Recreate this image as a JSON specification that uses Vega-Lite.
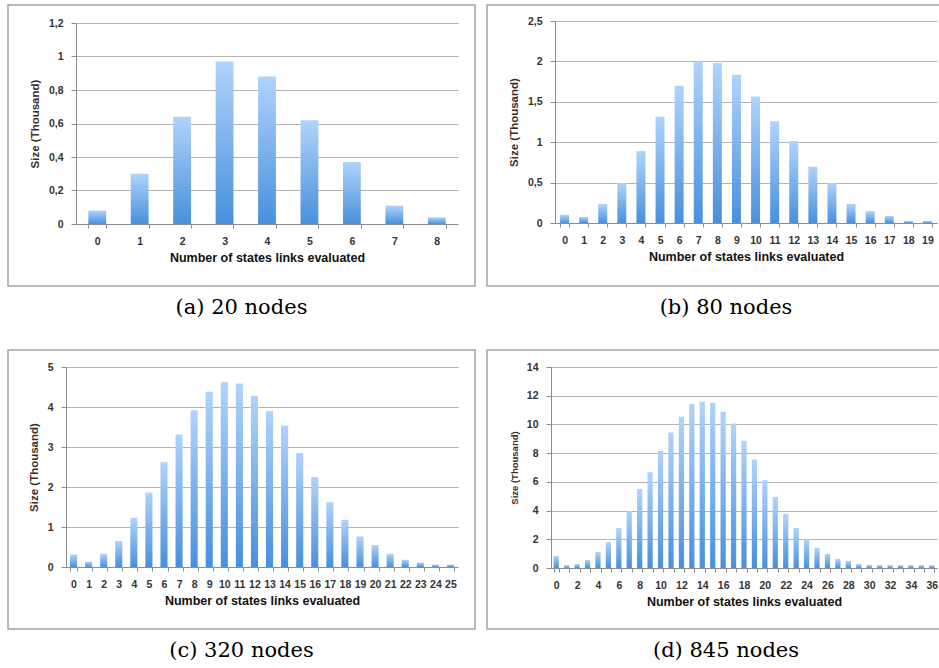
{
  "$schema": "https://vega.github.io/schema/vega-lite/v6.json",
  "padding": {"left": 7, "top": 4, "right": 0, "bottom": 0},
  "datasets": {
    "a": [{"links":0,"size":0.08},{"links":1,"size":0.30},{"links":2,"size":0.64},{"links":3,"size":0.97},{"links":4,"size":0.88},{"links":5,"size":0.62},{"links":6,"size":0.37},{"links":7,"size":0.11},{"links":8,"size":0.04}],
    "b": [{"links":0,"size":0.10},{"links":1,"size":0.075},{"links":2,"size":0.235},{"links":3,"size":0.495},{"links":4,"size":0.89},{"links":5,"size":1.315},{"links":6,"size":1.70},{"links":7,"size":2.0},{"links":8,"size":1.98},{"links":9,"size":1.835},{"links":10,"size":1.567},{"links":11,"size":1.258},{"links":12,"size":1.014},{"links":13,"size":0.697},{"links":14,"size":0.495},{"links":15,"size":0.235},{"links":16,"size":0.148},{"links":17,"size":0.087},{"links":18,"size":0.025},{"links":19,"size":0.025}],
    "c": [{"links":0,"size":0.31},{"links":1,"size":0.13},{"links":2,"size":0.33},{"links":3,"size":0.65},{"links":4,"size":1.23},{"links":5,"size":1.86},{"links":6,"size":2.62},{"links":7,"size":3.31},{"links":8,"size":3.92},{"links":9,"size":4.38},{"links":10,"size":4.62},{"links":11,"size":4.59},{"links":12,"size":4.28},{"links":13,"size":3.90},{"links":14,"size":3.53},{"links":15,"size":2.85},{"links":16,"size":2.25},{"links":17,"size":1.62},{"links":18,"size":1.18},{"links":19,"size":0.76},{"links":20,"size":0.55},{"links":21,"size":0.33},{"links":22,"size":0.18},{"links":23,"size":0.11},{"links":24,"size":0.06},{"links":25,"size":0.06}],
    "d": [{"links":0,"size":0.84},{"links":1,"size":0.2},{"links":2,"size":0.28},{"links":3,"size":0.56},{"links":4,"size":1.12},{"links":5,"size":1.81},{"links":6,"size":2.79},{"links":7,"size":3.98},{"links":8,"size":5.51},{"links":9,"size":6.67},{"links":10,"size":8.16},{"links":11,"size":9.44},{"links":12,"size":10.53},{"links":13,"size":11.42},{"links":14,"size":11.58},{"links":15,"size":11.51},{"links":16,"size":10.88},{"links":17,"size":10.07},{"links":18,"size":8.86},{"links":19,"size":7.56},{"links":20,"size":6.12},{"links":21,"size":4.95},{"links":22,"size":3.77},{"links":23,"size":2.79},{"links":24,"size":2.02},{"links":25,"size":1.40},{"links":26,"size":0.98},{"links":27,"size":0.63},{"links":28,"size":0.49},{"links":29,"size":0.28},{"links":30,"size":0.21},{"links":31,"size":0.2},{"links":32,"size":0.2},{"links":33,"size":0.2},{"links":34,"size":0.2},{"links":35,"size":0.2},{"links":36,"size":0.2}]
  },
  "columns": 2,
  "align": "each",
  "spacing": {"row": 30, "column": 10},
  "concat": [
    {
      "width": 467, "height": 281,
      "data": {"name": "a"},
      "title": {"text": "(a) 20 nodes"},
      "mark": {"type": "bar", "color": {"gradient": "linear", "x1": 0, "y1": 0, "x2": 0, "y2": 1, "stops": [{"offset": 0, "color": "#b0d3fb"}, {"offset": 1, "color": "#4890dc"}]}},
      "encoding": {
        "x": {"field": "links", "type": "ordinal", "scale": {"range": [68, 450], "paddingInner": 0.58, "paddingOuter": 0.29}, "axis": {"title": "Number of states links evaluated", "offset": -62}},
        "y": {"field": "size", "type": "quantitative", "scale": {"domain": [0, 1.2], "range": [219, 18], "nice": false}, "axis": {"title": "Size (Thousand)", "offset": -68, "values": [0, 0.2, 0.4, 0.6, 0.8, 1, 1.2], "format": "~g"}}
      }
    },
    {
      "width": 478, "height": 281,
      "data": {"name": "b"},
      "title": {"text": "(b) 80 nodes"},
      "mark": {"type": "bar", "color": {"gradient": "linear", "x1": 0, "y1": 0, "x2": 0, "y2": 1, "stops": [{"offset": 0, "color": "#b0d3fb"}, {"offset": 1, "color": "#4890dc"}]}},
      "encoding": {
        "x": {"field": "links", "type": "ordinal", "scale": {"range": [68, 450], "paddingInner": 0.53, "paddingOuter": 0.265}, "axis": {"title": "Number of states links evaluated", "offset": -63}},
        "y": {"field": "size", "type": "quantitative", "scale": {"domain": [0, 2.5], "range": [218, 16], "nice": false}, "axis": {"title": "Size (Thousand)", "offset": -68, "values": [0, 0.5, 1, 1.5, 2, 2.5], "format": "~g"}}
      }
    },
    {
      "width": 467, "height": 279,
      "data": {"name": "c"},
      "title": {"text": "(c) 320 nodes"},
      "mark": {"type": "bar", "color": {"gradient": "linear", "x1": 0, "y1": 0, "x2": 0, "y2": 1, "stops": [{"offset": 0, "color": "#b0d3fb"}, {"offset": 1, "color": "#4890dc"}]}},
      "encoding": {
        "x": {"field": "links", "type": "ordinal", "scale": {"range": [58, 450], "paddingInner": 0.53, "paddingOuter": 0.265}, "axis": {"title": "Number of states links evaluated", "offset": -62}},
        "y": {"field": "size", "type": "quantitative", "scale": {"domain": [0, 5], "range": [217, 17], "nice": false}, "axis": {"title": "Size (Thousand)", "offset": -58, "values": [0, 1, 2, 3, 4, 5], "format": "~g"}}
      }
    },
    {
      "width": 478, "height": 279,
      "data": {"name": "d"},
      "title": {"text": "(d) 845 nodes"},
      "mark": {"type": "bar", "color": {"gradient": "linear", "x1": 0, "y1": 0, "x2": 0, "y2": 1, "stops": [{"offset": 0, "color": "#b0d3fb"}, {"offset": 1, "color": "#4890dc"}]}},
      "encoding": {
        "x": {"field": "links", "type": "ordinal", "scale": {"range": [64, 450], "paddingInner": 0.5, "paddingOuter": 0.25}, "axis": {"title": "Number of states links evaluated", "offset": -61, "labelExpr": "datum.value % 2 === 0 ? datum.label : ''"}},
        "y": {"field": "size", "type": "quantitative", "scale": {"domain": [0, 14], "range": [218, 17], "nice": false}, "axis": {"title": "Size (Thousand)", "offset": -64, "values": [0, 2, 4, 6, 8, 10, 12, 14], "format": "~g", "titleFontSize": 9.5, "titlePadding": 7}}
      }
    }
  ],
  "config": {
    "locale": {"number": {"decimal": ",", "thousands": ".", "grouping": [3], "currency": ["", " €"]}},
    "view": {"stroke": "#a3a3a3", "strokeWidth": 1.5},
    "axis": {
      "domainColor": "#8c8c8c", "tickColor": "#8c8c8c", "gridColor": "#b3b3b3", "gridWidth": 1,
      "labelFont": "Liberation Sans", "labelFontWeight": "bold", "labelFontSize": 10.5, "labelColor": "#333333",
      "titleFont": "Liberation Sans", "titleFontWeight": "bold", "labelOverlap": false
    },
    "axisX": {"grid": false, "tickBand": "extent", "labelAngle": 0, "titleFontSize": 12.5, "titleColor": "#111111", "tickSize": 4, "labelPadding": 8, "titlePadding": 5},
    "axisY": {"grid": true, "tickSize": 5, "labelPadding": 8, "titleFontSize": 11.5, "titleColor": "#3d2b1f", "titlePadding": 8},
    "title": {"font": "DejaVu Serif", "fontSize": 21, "fontWeight": "normal", "color": "#000000", "orient": "bottom", "anchor": "middle", "frame": "group", "offset": 11}
  }
}
